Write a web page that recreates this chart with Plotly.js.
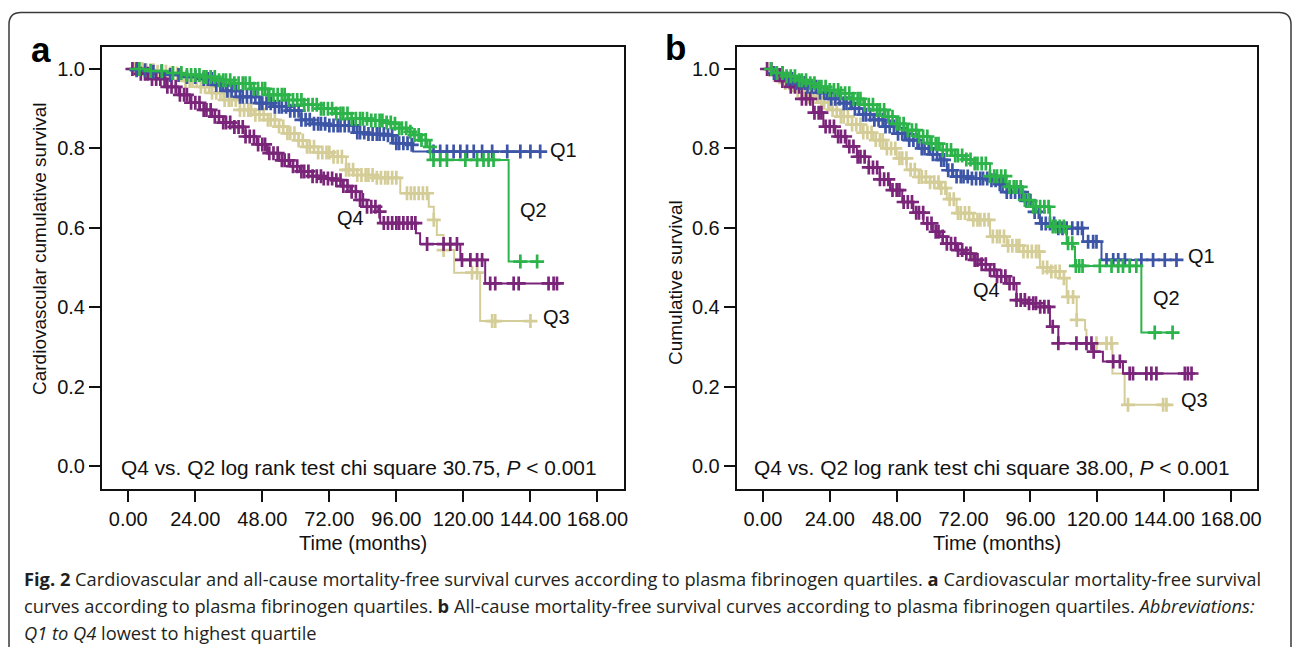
<!DOCTYPE html>
<html><head><meta charset="utf-8">
<script src="https://cdn.plot.ly/plotly-3.0.1.min.js"></script>
<style>html,body{margin:0;padding:0;background:#fff;}#chart{width:1292px;height:647px;}</style>
</head><body><div id="chart"></div>
<script>
// ---------- Data ----------
const xTickVals = [0, 24, 48, 72, 96, 120, 144, 168];
const xTickText = ['0.00', '24.00', '48.00', '72.00', '96.00', '120.00', '144.00', '168.00'];
const yTickVals = [0, 0.2, 0.4, 0.6, 0.8, 1.0];
const yTickText = ['0.0', '0.2', '0.4', '0.6', '0.8', '1.0'];
const quartiles = ['Q1', 'Q2', 'Q3', 'Q4'];

// Panel a: cardiovascular mortality-free survival (step curves)
const aQ1Time = [0.5, 3, 8, 14, 20, 26, 31, 35, 40, 47, 52, 57, 62, 66, 72, 81, 86, 92, 95, 101, 102, 147.5];
const aQ1Surv = [1.0, 0.997, 0.993, 0.985, 0.98, 0.975, 0.96, 0.945, 0.93, 0.914, 0.905, 0.895, 0.872, 0.862, 0.858, 0.84, 0.836, 0.833, 0.813, 0.809, 0.792, 0.792];
const aQ2Time = [0.5, 8, 14, 20, 26, 32, 38, 44, 50, 57, 63, 68, 74, 80, 86, 92, 95, 97, 100, 102, 104.6, 107, 108.2, 136.2, 146.4];
const aQ2Surv = [1.0, 0.995, 0.99, 0.985, 0.98, 0.972, 0.964, 0.95, 0.935, 0.922, 0.91, 0.9, 0.888, 0.875, 0.87, 0.865, 0.862, 0.851, 0.842, 0.834, 0.821, 0.804, 0.771, 0.515, 0.515];
const aQ3Time = [0.5, 6, 10, 14, 20, 26, 30, 34, 40, 45, 50, 54, 57, 61, 64, 68, 73, 78, 80.7, 88, 97.4, 107.6, 109.4, 110.5, 112.9, 116.7, 126, 144];
const aQ3Surv = [1.0, 0.997, 0.993, 0.989, 0.97, 0.955, 0.94, 0.922, 0.897, 0.885, 0.872, 0.855, 0.838, 0.82, 0.804, 0.79, 0.779, 0.746, 0.733, 0.726, 0.687, 0.653, 0.62, 0.582, 0.544, 0.487, 0.365, 0.365];
const aQ4Time = [0.5, 4, 8, 13.7, 18, 22, 25.7, 30, 34, 37.6, 42, 46, 49.7, 54, 58, 61.5, 66, 70, 73.5, 77, 79.5, 83, 85.4, 89.5, 90.2, 103, 104.5, 118.9, 127.8, 153.5];
const aQ4Surv = [1.0, 0.988, 0.975, 0.955, 0.935, 0.915, 0.897, 0.88, 0.865, 0.854, 0.83, 0.81, 0.788, 0.77, 0.755, 0.742, 0.73, 0.724, 0.72, 0.705, 0.691, 0.67, 0.653, 0.641, 0.612, 0.586, 0.559, 0.519, 0.46, 0.46];

// Panel a: censoring times
const aQ1Cens = [3, 6, 9, 12, 15, 18, 21, 24, 27, 28.5, 30, 31.5, 33, 34, 35.5, 37, 38.5, 40, 41, 42.5, 44, 45.5, 47, 48, 49.5, 51, 52.5, 54, 55, 56.5, 58, 59.5, 61, 62, 63.5, 65, 66.5, 68, 69, 70.5, 72, 73.5, 75, 76, 77.5, 79, 80.5, 82, 83, 84.5, 86, 87.5, 89, 90, 91.5, 93, 94.5, 96, 97, 98.5, 100, 101.5, 109.3, 111.7, 114.1, 116.5, 118.9, 121.3, 123.7, 126.7, 130.3, 135.7, 140.4, 144, 147.5];
const aQ2Cens = [4, 8, 12, 16, 19, 21, 22.5, 24, 25.5, 27, 28, 29.5, 31, 32.5, 34, 35, 36.5, 38, 39.5, 41, 42, 43.5, 45, 46.5, 48, 49, 50.5, 52, 53.5, 55, 56, 57.5, 59, 60.5, 62, 63, 64.5, 66, 67.5, 69, 70, 71.5, 73, 74.5, 76, 77, 78.5, 80, 81.5, 83, 84, 85.5, 87, 88.5, 90, 91, 92.5, 94, 95.5, 97, 98, 99.5, 101, 102.5, 104, 105, 106.5, 108, 109.3, 111.7, 114.1, 120.7, 124.9, 127.2, 129, 130.8, 140.4, 146.4];
const aQ3Cens = [2, 3.5, 5, 6.5, 8, 9, 10.5, 12, 13.5, 15, 16, 17.5, 19, 20.5, 22, 23, 24.5, 26, 27.5, 29, 30, 31.5, 33, 34.5, 36, 37, 38.5, 40, 41.5, 43, 44, 45.5, 47, 48.5, 50, 51, 52.5, 54, 55.5, 57, 58, 59.5, 61, 62.5, 64, 65, 66.5, 68, 69.5, 71, 72, 73.5, 75, 76.5, 78, 79, 80.5, 82, 83.5, 85, 86, 87.5, 89, 90.5, 92, 93, 94.5, 96, 99.8, 101.2, 102.5, 104, 105.5, 107, 109.4, 112.9, 123.1, 124.9, 130.3, 131.4, 144];
const aQ4Cens = [1.5, 3, 4.5, 6, 7, 8.5, 10, 11.5, 13, 14, 15.5, 17, 18.5, 20, 21, 22.5, 24, 25.5, 27, 28, 29.5, 31, 32.5, 34, 35, 36.5, 38, 39.5, 41, 42, 43.5, 45, 46.5, 48, 49, 50.5, 52, 53.5, 55, 56, 57.5, 59, 60.5, 62, 63, 64.5, 66, 67.5, 69, 70, 71.5, 73, 74.5, 76, 77, 78.5, 80, 81.5, 83, 84, 85.5, 87, 88.5, 90, 91.5, 93, 94.5, 96, 97, 98.5, 100, 101.5, 102.8, 107, 112.9, 115.3, 117.7, 119.5, 122.5, 124.9, 126.7, 129.6, 131.4, 138, 139.8, 150.5, 152.3, 153.5];

// Panel b: all-cause mortality-free survival (step curves)
const bQ1Time = [0.5, 4, 8, 12, 15.8, 20, 24, 27.7, 32, 36, 39.6, 44, 48, 51.6, 56, 60, 63.5, 66, 68.3, 75, 81.5, 84, 87.5, 93.4, 97, 99.4, 105.4, 114.9, 121.5, 148.4];
const bQ1Surv = [1.0, 0.99, 0.975, 0.965, 0.955, 0.94, 0.925, 0.914, 0.9, 0.885, 0.872, 0.855, 0.837, 0.821, 0.8, 0.785, 0.771, 0.745, 0.729, 0.724, 0.72, 0.71, 0.69, 0.668, 0.64, 0.611, 0.599, 0.565, 0.519, 0.519];
const bQ2Time = [0.5, 4, 8, 12, 15.8, 20, 24, 27.7, 32, 36, 39.6, 44, 48, 51.6, 56, 60, 63.5, 68, 72, 75.5, 81.5, 87.5, 93.4, 97, 103, 109, 111.3, 112, 135.8, 147];
const bQ2Surv = [1.0, 0.99, 0.982, 0.972, 0.964, 0.955, 0.947, 0.939, 0.925, 0.91, 0.897, 0.88, 0.862, 0.846, 0.83, 0.812, 0.796, 0.782, 0.772, 0.762, 0.73, 0.703, 0.67, 0.653, 0.603, 0.561, 0.552, 0.504, 0.336, 0.336];
const bQ3Time = [0.5, 4, 8, 12, 15.8, 20, 24, 27.7, 32, 36, 39.6, 44, 48, 51.6, 56, 60, 63.5, 66, 69.5, 75.5, 81.5, 87.5, 93.4, 99.4, 103, 106.6, 109, 112.6, 115.6, 116.1, 125.4, 129.8, 144.8];
const bQ3Surv = [1.0, 0.985, 0.965, 0.945, 0.93, 0.915, 0.897, 0.88, 0.86, 0.84, 0.821, 0.8, 0.775, 0.746, 0.728, 0.715, 0.7, 0.672, 0.637, 0.62, 0.578, 0.555, 0.54, 0.5, 0.49, 0.473, 0.426, 0.368, 0.343, 0.309, 0.233, 0.154, 0.154];
const bQ4Time = [0.5, 4, 7, 9.8, 14, 18, 21.7, 26, 30, 33.7, 38, 42, 45.6, 50, 54, 57.6, 61, 63.5, 66, 69.5, 72, 75.5, 78, 81.5, 84, 87.5, 91, 95, 99.4, 103, 106, 118.5, 122, 129.2, 153.8];
const bQ4Surv = [1.0, 0.985, 0.97, 0.955, 0.925, 0.89, 0.855, 0.83, 0.805, 0.779, 0.752, 0.722, 0.695, 0.665, 0.638, 0.611, 0.59, 0.578, 0.56, 0.544, 0.535, 0.519, 0.508, 0.494, 0.478, 0.46, 0.418, 0.41, 0.401, 0.351, 0.309, 0.288, 0.263, 0.233, 0.233];

// Panel b: censoring times
const bQ1Cens = [4, 7, 9, 10.5, 12, 13.5, 15, 16, 17.5, 19, 20.5, 22, 23, 24.5, 26, 27.5, 29, 30, 31.5, 33, 34.5, 36, 37, 38.5, 40, 41.5, 43, 44, 45.5, 47, 48.5, 50, 51, 52.5, 54, 55.5, 57, 58, 59.5, 61, 62.5, 64, 65, 66.5, 68, 69.5, 71, 72, 73.5, 75, 76.5, 78, 79, 80.5, 82, 83.5, 85, 86, 87.5, 89, 90.5, 92, 93, 94.5, 96, 97.5, 99, 100, 101.5, 103, 104.5, 106, 107.5, 109, 111, 113, 114.5, 116.7, 118.5, 119.7, 123.3, 125.7, 127.5, 129.9, 135.8, 140, 144.2, 148.4];
const bQ2Cens = [3, 5, 7, 8.5, 10, 11.5, 13, 14, 15.5, 17, 18.5, 20, 21, 22.5, 24, 25.5, 27, 28, 29.5, 31, 32.5, 34, 35, 36.5, 38, 39.5, 41, 42, 43.5, 45, 46.5, 48, 49, 50.5, 52, 53.5, 55, 56, 57.5, 59, 60.5, 62, 63, 64.5, 66, 67.5, 69, 70, 71.5, 73, 74.5, 76, 77, 78.5, 80, 81.5, 83, 84, 85.5, 87, 88.5, 90, 91, 92.5, 94, 95.5, 97, 98, 99.5, 101, 102.5, 104, 105, 106.5, 108, 109.5, 111, 112.3, 113.5, 114.7, 120.9, 125.1, 127.5, 129.2, 131.6, 134, 140.6, 147];
const bQ3Cens = [2.5, 4, 5.5, 7, 8, 9.5, 11, 12.5, 14, 15, 16.5, 18, 19.5, 21, 22, 23.5, 25, 26.5, 28, 29, 30.5, 32, 33.5, 35, 36, 37.5, 39, 40.5, 42, 43, 44.5, 46, 47.5, 49, 50, 51.5, 53, 54.5, 56, 57, 58.5, 60, 61.5, 63, 64, 65.5, 67, 68.5, 70, 71, 72.5, 74, 75.5, 77, 78, 79.5, 81, 82.5, 84, 85, 86.5, 88, 89.5, 91, 92, 93.5, 95, 96.5, 98, 99, 100.5, 102, 103.5, 105, 106.5, 108, 109.5, 111.3, 112.6, 119.7, 123.3, 125.1, 131, 143.6, 144.8];
const bQ4Cens = [1.5, 3, 4.5, 6, 7, 8.5, 10, 11.5, 13, 14, 15.5, 17, 18.5, 20, 21, 22.5, 24, 25.5, 27, 28, 29.5, 31, 32.5, 34, 35, 36.5, 38, 39.5, 41, 42, 43.5, 45, 46.5, 48, 49, 50.5, 52, 53.5, 55, 56, 57.5, 59, 60.5, 62, 63, 64.5, 66, 67.5, 69, 70, 71.5, 73, 74.5, 76, 77, 78.5, 80, 81.5, 83, 84, 85.5, 87, 88.5, 90, 91, 92.5, 94, 95.5, 97, 98, 99.5, 101, 102.5, 104, 106, 112.5, 116.1, 117.9, 118.7, 125.7, 128.1, 131.6, 132.8, 137.6, 139.4, 141.2, 151.4, 152.5, 153.8];

// Quartile label positions [time, survival]
const aLabelPos = [[155.8, 0.796], [145, 0.645], [153.5, 0.376], [79.5, 0.624]];
const bLabelPos = [[157.3, 0.529], [144.8, 0.422], [155, 0.166], [80.3, 0.443]];

// ---------- Style ----------
const colors = {Q1: '#3c55a6', Q2: '#2cb44b', Q3: '#d5cd98', Q4: '#7a2579'};
const FONT = 'Liberation Sans, Arial, Helvetica, sans-serif';
const W = 1292, H = 647;
const px = v => v / W;
const py = v => 1 - v / H;

function survAt(times, surv, t) {
  let v = surv[0];
  for (let i = 0; i < times.length; i++) { if (times[i] <= t) v = surv[i]; }
  return v;
}

const series = {
  x: {Q1: [aQ1Time, aQ1Surv, aQ1Cens], Q2: [aQ2Time, aQ2Surv, aQ2Cens], Q3: [aQ3Time, aQ3Surv, aQ3Cens], Q4: [aQ4Time, aQ4Surv, aQ4Cens]},
  x2: {Q1: [bQ1Time, bQ1Surv, bQ1Cens], Q2: [bQ2Time, bQ2Surv, bQ2Cens], Q3: [bQ3Time, bQ3Surv, bQ3Cens], Q4: [bQ4Time, bQ4Surv, bQ4Cens]}
};

const traces = [];
const drawOrder = ['Q3', 'Q4', 'Q1', 'Q2'];
for (const xa of ['x', 'x2']) {
  const ya = xa === 'x' ? 'y' : 'y2';
  for (const q of drawOrder) {
    const [t, s, c] = series[xa][q];
    traces.push({type: 'scatter', mode: 'lines', x: t, y: s, xaxis: xa, yaxis: ya,
      line: {shape: 'hv', color: colors[q], width: 2}, hoverinfo: 'skip', showlegend: false});
    traces.push({type: 'scatter', mode: 'markers', x: c, y: c.map(v => survAt(t, s, v)), xaxis: xa, yaxis: ya,
      marker: {symbol: 'cross-thin', size: 10, color: colors[q], line: {color: colors[q], width: 2.7}},
      hoverinfo: 'skip', showlegend: false});
  }
}

const yDomain = [py(488.7), py(46.7)];
const axCommon = {
  range: [-9.4, 177.4], tickvals: xTickVals, ticktext: xTickText, ticks: 'outside', ticklen: 11, tickwidth: 2,
  tickcolor: '#111', showline: true, linewidth: 2, linecolor: '#111', mirror: true, showgrid: false, zeroline: false,
  tickfont: {family: FONT, size: 20, color: '#111'}, fixedrange: true
};
const ayCommon = {
  range: [-0.0572, 1.0562], tickvals: yTickVals, ticktext: yTickText, ticks: 'outside', ticklen: 11, tickwidth: 2,
  tickcolor: '#111', showline: true, linewidth: 2, linecolor: '#111', mirror: true, showgrid: false, zeroline: false,
  tickfont: {family: FONT, size: 20, color: '#111'}, domain: yDomain, fixedrange: true
};

const annotations = [];
function txt(text, x, y, opts) {
  annotations.push(Object.assign({text: text, x: x, y: y, xref: 'paper', yref: 'paper', showarrow: false,
    xanchor: 'center', yanchor: 'middle', font: {family: FONT, size: 20, color: '#111'}}, opts || {}));
}
// panel letters
txt('<b>a</b>', px(41), py(49), {font: {family: FONT, size: 35, color: '#000'}});
txt('<b>b</b>', px(675), py(47), {font: {family: FONT, size: 35, color: '#000'}});
// axis titles
txt('Time (months)', px(363), py(543));
txt('Time (months)', px(997), py(543));
txt('Cardiovascular cumulative survival', px(40), py(249), {textangle: -90, font: {family: FONT, size: 19, color: '#111'}});
txt('Cumulative survival', px(676), py(283), {textangle: -90, font: {family: FONT, size: 19, color: '#111'}});
// log-rank texts
txt('Q4 vs. Q2 log rank test chi square 30.75, <i>P</i> &lt; 0.001', px(119), py(467), {xanchor: 'left', font: {family: FONT, size: 20.9, color: '#111'}});
txt('Q4 vs. Q2 log rank test chi square 38.00, <i>P</i> &lt; 0.001', px(752), py(467), {xanchor: 'left', font: {family: FONT, size: 20.9, color: '#111'}});
// quartile labels
quartiles.forEach((q, i) => {
  annotations.push({text: q, x: aLabelPos[i][0], y: aLabelPos[i][1], xref: 'x', yref: 'y', showarrow: false,
    xanchor: 'center', yanchor: 'middle', font: {family: FONT, size: 20, color: '#111'}});
  annotations.push({text: q, x: bLabelPos[i][0], y: bLabelPos[i][1], xref: 'x2', yref: 'y2', showarrow: false,
    xanchor: 'center', yanchor: 'middle', font: {family: FONT, size: 20, color: '#111'}});
});
// caption
const CAP = 'Open Sans, Noto Sans, sans-serif';
const capFont = {family: CAP, size: 18.3, color: '#231f20'};
txt('<b>Fig. 2</b> Cardiovascular and all-cause mortality-free survival curves according to plasma fibrinogen quartiles. <b>a</b> Cardiovascular mortality-free survival',
  px(22), py(578), {xanchor: 'left', font: capFont});
txt('curves according to plasma fibrinogen quartiles. <b>b</b> All-cause mortality-free survival curves according to plasma fibrinogen quartiles. <i>Abbreviations:</i>',
  px(22), py(605), {xanchor: 'left', font: capFont});
txt('<i>Q1 to Q4</i> lowest to highest quartile', px(22), py(632), {xanchor: 'left', font: capFont});

// outer rounded border
const L = px(9), R = px(1291), T = py(12.5), B = py(700), rx = px(12) - px(0), ry = 12 / H;
const borderPath = `M ${L},${B} L ${L},${T - ry} Q ${L},${T} ${L + rx},${T} L ${R - rx},${T} Q ${R},${T} ${R},${T - ry} L ${R},${B}`;

const layout = {
  width: W, height: H, margin: {l: 0, r: 0, t: 0, b: 0, pad: 0},
  paper_bgcolor: '#fff', plot_bgcolor: '#fff', showlegend: false,
  xaxis: Object.assign({}, axCommon, {domain: [px(102), px(623.7)], anchor: 'y'}),
  yaxis: Object.assign({}, ayCommon, {anchor: 'x'}),
  xaxis2: Object.assign({}, axCommon, {domain: [px(736.7), px(1257.3)], anchor: 'y2'}),
  yaxis2: Object.assign({}, ayCommon, {anchor: 'x2'}),
  annotations: annotations,
  shapes: [{type: 'path', xref: 'paper', yref: 'paper', path: borderPath, line: {color: '#3a3a3a', width: 1.5}}]
};

Plotly.newPlot('chart', traces, layout, {displayModeBar: false, staticPlot: true});
</script></body></html>
